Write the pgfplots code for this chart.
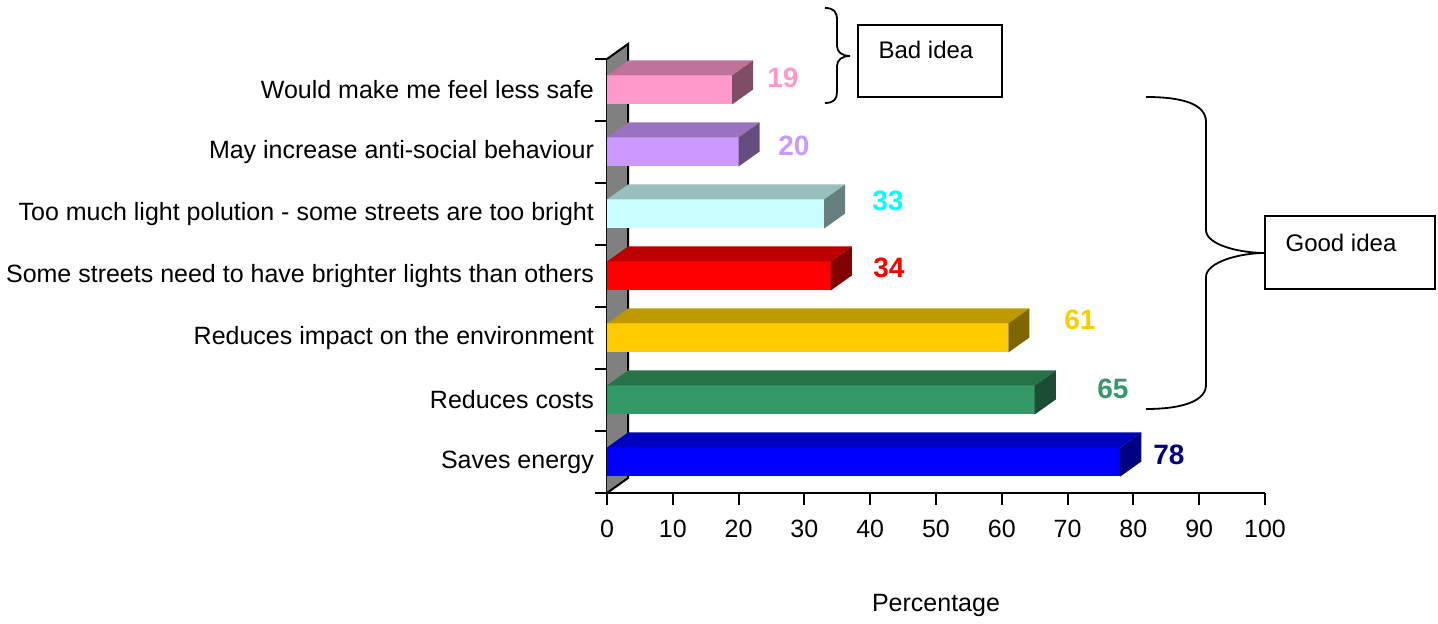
\documentclass[border=0pt]{standalone}
\usepackage{pgfplots}
\pgfplotsset{compat=1.18}
\usepackage{fontspec}
\setmainfont{Liberation Sans}

\definecolor{wallgray}{HTML}{808080}
\definecolor{pinkF}{HTML}{FF99CC}\definecolor{pinkT}{HTML}{BF7399}\definecolor{pinkS}{HTML}{804D66}
\definecolor{lavF}{HTML}{CC99FF}\definecolor{lavT}{HTML}{9973BF}\definecolor{lavS}{HTML}{664D80}
\definecolor{cyanF}{HTML}{CCFFFF}\definecolor{cyanT}{HTML}{99BFBF}\definecolor{cyanS}{HTML}{668080}
\definecolor{redF}{HTML}{FF0000}\definecolor{redT}{HTML}{BF0000}\definecolor{redS}{HTML}{800000}
\definecolor{goldF}{HTML}{FFCC00}\definecolor{goldT}{HTML}{BF9900}\definecolor{goldS}{HTML}{806600}
\definecolor{greenF}{HTML}{339966}\definecolor{greenT}{HTML}{267349}\definecolor{greenS}{HTML}{1A4D33}
\definecolor{blueF}{HTML}{0000FF}\definecolor{blueT}{HTML}{0000BF}\definecolor{blueS}{HTML}{000080}
\definecolor{lab33}{HTML}{00FFFF}

% one 3D bar: #1 category, #2 value, #3 front, #4 top, #5 side
\newcommand\threedbar[5]{%
  \pgfmathsetmacro\ylo{#1-0.234}%
  \pgfmathsetmacro\yhi{#1+0.234}%
  \pgfmathsetmacro\ytop{#1+0.476}%
  \pgfmathsetmacro\yback{#1+0.008}%
  \pgfmathsetmacro\xend{#2+3.2}%
  \edef\doplot{%
    \noexpand\addplot[xbar, bar shift=0pt, bar width=14.5pt, fill=#3, draw=none, forget plot] coordinates {(#2,#1)};
    \noexpand\addplot[fill=#4, draw=none, forget plot] coordinates {(0,\yhi) (#2,\yhi) (\xend,\ytop) (3.2,\ytop)} -- cycle;
    \noexpand\addplot[fill=#5, draw=none, forget plot] coordinates {(#2,\ylo) (\xend,\yback) (\xend,\ytop) (#2,\yhi)} -- cycle;
  }%
  \doplot}

\begin{document}
\begin{tikzpicture}
\begin{axis}[
    x=3.29pt, y=31pt,
    xmin=0, xmax=100,
    ymin=-0.5, ymax=6.5,
    clip=false,
    axis lines=left,
    axis line style={-, line width=1pt},
    xtick={0,10,...,100},
    tick align=outside,
    major tick length=6pt,
    tick style={black, line width=1pt},
    ytick={-0.5,0.5,...,6.5},
    yticklabels={},
    extra y ticks={0,1,2,3,4,5,6},
    extra y tick labels={Saves energy, Reduces costs, Reduces impact on the environment,
      Some streets need to have brighter lights than others,
      Too much light polution - some streets are too bright,
      May increase anti-social behaviour, Would make me feel less safe},
    extra y tick style={major tick length=0pt, yticklabel style={font=\fontsize{12.5}{15}\selectfont, xshift=-3pt}},
    /pgf/number format/assume math mode=true,
    xticklabel style={font=\fontsize{12.5}{15}\selectfont, yshift=-4pt},
    xlabel={Percentage},
    xlabel style={font=\fontsize{12.5}{15}\selectfont, at={(axis description cs:0.5,0)}, anchor=center, yshift=-56pt},
]
% back wall
\addplot[fill=wallgray, draw=none, forget plot] coordinates {(0,-0.5) (3.2,-0.258) (3.2,6.742) (0,6.5)} -- cycle;
\draw[line width=1pt] (axis cs:0,-0.5) -- (axis cs:3.2,-0.258) -- (axis cs:3.2,6.742) -- (axis cs:0,6.5);

\threedbar{6}{19}{pinkF}{pinkT}{pinkS}
\threedbar{5}{20}{lavF}{lavT}{lavS}
\threedbar{4}{33}{cyanF}{cyanT}{cyanS}
\threedbar{3}{34}{redF}{redT}{redS}
\threedbar{2}{61}{goldF}{goldT}{goldS}
\threedbar{1}{65}{greenF}{greenT}{greenS}
\threedbar{0}{78}{blueF}{blueT}{blueS}
\end{axis}

% annotations in pixel units of the reference
\begin{scope}[x=0.5pt, y=-0.5pt, xshift=-303.5pt, yshift=246.5pt]
  \begin{scope}[font=\fontsize{14}{16}\selectfont\bfseries]
    \node[anchor=west, inner sep=0, text=pinkF] at (767,78) {19};
    \node[anchor=west, inner sep=0, text=lavF] at (778,146) {20};
    \node[anchor=west, inner sep=0, text=lab33] at (872,201) {33};
    \node[anchor=west, inner sep=0, text=redF] at (873,268) {34};
    \node[anchor=west, inner sep=0, text=goldF] at (1064,320) {61};
    \node[anchor=west, inner sep=0, text=greenF] at (1097,389) {65};
    \node[anchor=west, inner sep=0, text=blueS] at (1153,455) {78};
  \end{scope}
  \draw[line width=0.9pt] (825,8) .. controls (834,8) and (837,12) .. (837,20) -- (837,46)
    .. controls (837,52) and (842,56) .. (850,56) .. controls (842,56) and (837,60) .. (837,66)
    -- (837,92) .. controls (837,99) and (834,103) .. (825,103);
  \draw[line width=0.75pt] (858,25) rectangle (1002,97);
  \node[font=\fontsize{12}{14}\selectfont] at (926,50) {Bad idea};
  \draw[line width=0.9pt] (1146,97) .. controls (1185,97) and (1206,105) .. (1206,122) -- (1206,230)
    .. controls (1206,245) and (1240,253) .. (1265,253) .. controls (1240,253) and (1206,262) .. (1206,277)
    -- (1206,385) .. controls (1206,400) and (1185,409) .. (1146,409);
  \draw[line width=0.75pt] (1265,216) rectangle (1435,289);
  \node[font=\fontsize{12}{14}\selectfont] at (1341,243) {Good idea};
  \pgfresetboundingbox
  \path[use as bounding box] (0,0) rectangle (1438,624);
\end{scope}
\end{tikzpicture}
\end{document}
